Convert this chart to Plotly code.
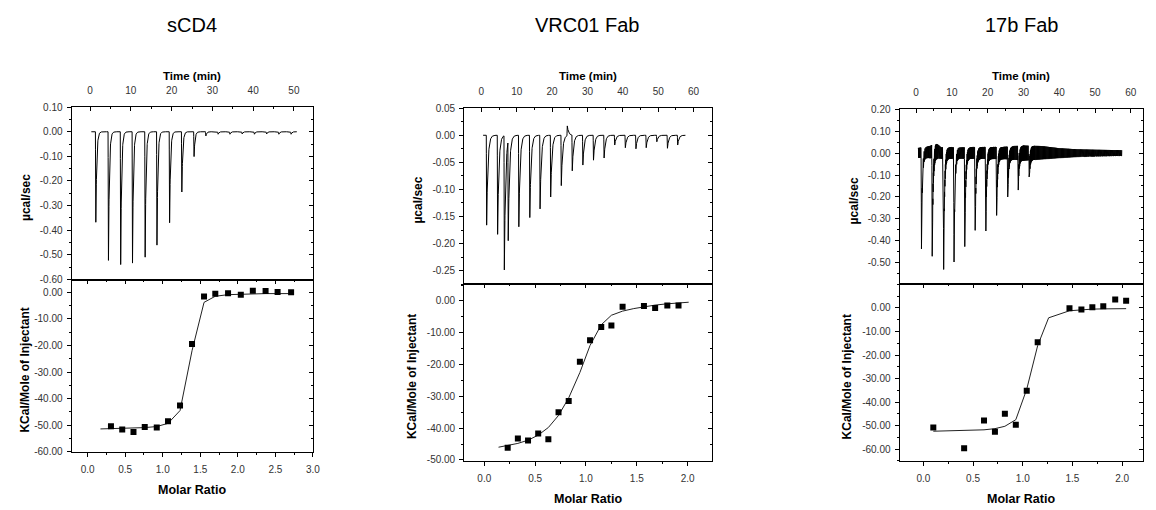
import numpy as np
import plotly.graph_objects as go

W, H = 1156, 510
FONT = "Liberation Sans, Arial, sans-serif"

titles = ["sCD4", "VRC01 Fab", "17b Fab"]

# ---------------- raw thermogram data (injection time in min, peak in µcal/sec) -------------
scd4_inj_time = [1.3, 4.4, 7.4, 10.3, 13.4, 16.3, 19.4, 22.4, 25.4, 28.3,
                 31.3, 34.2, 37.2, 40.2, 43.2, 46.2, 49.2]
scd4_inj_peak = [-0.368, -0.523, -0.540, -0.534, -0.510, -0.461, -0.370, -0.245, -0.101, -0.017,
                 -0.010, -0.010, -0.009, -0.010, -0.009, -0.010, -0.010]
scd4_time_span = [0.3, 50.7]

vrc01_inj_time = [1.4, 4.5, 6.4, 7.5, 10.5, 13.6, 16.5, 19.5, 22.5, 24.2, 25.6, 28.6, 31.6,
                  34.6, 37.6, 40.6, 43.6, 46.5, 49.5, 52.5, 55.4]
vrc01_inj_peak = [-0.166, -0.183, -0.248, -0.184, -0.169, -0.152, -0.136, -0.114, -0.093, 0.018,
                  -0.066, -0.055, -0.046, -0.042, -0.018, -0.023, -0.025, -0.023, -0.012, -0.024, -0.018]
vrc01_time_span = [0.5, 57.7]

b17_inj_time = [1.4, 4.4, 7.6, 10.5, 13.5, 16.4, 19.4, 22.4, 25.5, 28.4, 31.5]
b17_inj_peak = [-0.414, -0.470, -0.530, -0.496, -0.426, -0.352, -0.328, -0.284, -0.200, -0.160, -0.096]
b17_time_span = [0.5, 57.5]
# baseline noise envelope of the 17b trace (time, half-width, centre)
b17_noise_time = [0.5, 4.0, 5.5, 7.0, 15.0, 25.0, 30.0, 35.0, 40.0, 45.0, 50.0, 57.5]
b17_noise_amp = [0.022, 0.028, 0.036, 0.026, 0.026, 0.028, 0.034, 0.030, 0.022, 0.017, 0.015, 0.013]
b17_noise_mid = [0.000, 0.005, 0.012, 0.000, 0.000, 0.000, 0.000, 0.002, 0.000, 0.000, 0.000, 0.000]

# ---------------- integrated heats (molar ratio, kcal/mol of injectant) ----------------
scd4_molar = [0.31, 0.46, 0.61, 0.76, 0.92, 1.07, 1.23, 1.39, 1.55, 1.70, 1.87, 2.04, 2.20, 2.37, 2.53, 2.71]
scd4_heat = [-50.4, -51.6, -52.6, -50.7, -50.9, -48.5, -42.6, -19.5, -1.6, -0.6, -0.4, -0.9, 0.6, 0.5, 0.1, 0.0]
scd4_fit_molar = [0.17, 0.31, 0.46, 0.61, 0.76, 0.92, 1.07, 1.23, 1.39, 1.55, 1.70, 1.87, 2.04, 2.20, 2.37, 2.53, 2.71]
scd4_fit_heat = [-51.4, -51.3, -51.2, -51.1, -50.9, -50.5, -49.3, -44.5, -22.0, -3.8, -1.5,
                 -0.9, -0.7, -0.6, -0.5, -0.5, -0.5]

vrc01_molar = [0.23, 0.33, 0.43, 0.53, 0.63, 0.73, 0.83, 0.94, 1.04, 1.15, 1.25, 1.36, 1.57, 1.68, 1.80, 1.91]
vrc01_heat = [-46.2, -43.3, -43.9, -41.7, -43.5, -35.0, -31.5, -19.1, -12.4, -8.2, -7.7, -1.8, -1.6, -2.2, -1.4, -1.4]
vrc01_fit_molar = [0.14, 0.23, 0.33, 0.43, 0.53, 0.63, 0.73, 0.83, 0.94, 1.04, 1.15, 1.25, 1.36,
                   1.47, 1.57, 1.68, 1.80, 1.91, 2.01]
vrc01_fit_heat = [-46.0, -45.5, -44.8, -43.8, -42.2, -39.8, -36.0, -30.5, -22.5, -14.0, -7.5, -4.5, -3.2,
                  -2.4, -1.8, -1.3, -0.9, -0.6, -0.4]

b17_molar = [0.10, 0.41, 0.61, 0.72, 0.82, 0.93, 1.04, 1.15, 1.47, 1.59, 1.70, 1.81, 1.93, 2.04]
b17_heat = [-50.8, -59.6, -47.8, -52.6, -45.0, -49.6, -35.2, -14.6, -0.1, -0.7, 0.3, 0.7, 3.6, 3.1]
b17_fit_molar = [0.10, 0.41, 0.61, 0.72, 0.82, 0.93, 1.04, 1.15, 1.26, 1.47, 1.59, 1.70, 1.81, 1.93, 2.04]
b17_fit_heat = [-52.4, -52.2, -51.8, -51.3, -50.3, -47.5, -34.5, -16.0, -4.2, -1.2, -0.7, -0.5, -0.4, -0.3, -0.3]

# ---------------- tick labels ----------------
time_ticks = [[0, 10, 20, 30, 40, 50], [0, 10, 20, 30, 40, 50, 60], [0, 10, 20, 30, 40, 50, 60]]
ucal_ticks = [[0.10, 0.00, -0.10, -0.20, -0.30, -0.40, -0.50, -0.60],
              [0.05, 0.00, -0.05, -0.10, -0.15, -0.20, -0.25],
              [0.20, 0.10, 0.00, -0.10, -0.20, -0.30, -0.40, -0.50]]
kcal_ticks = [[0, -10, -20, -30, -40, -50, -60], [0, -10, -20, -30, -40, -50], [0, -10, -20, -30, -40, -50, -60]]
molar_ticks = [[0.0, 0.5, 1.0, 1.5, 2.0, 2.5, 3.0], [0.0, 0.5, 1.0, 1.5, 2.0], [0.0, 0.5, 1.0, 1.5, 2.0]]


# ---------------- helpers ----------------
def thermogram(span, inj_t, inj_p, tau, ramp=0.10, step=0.02):
    t = np.arange(span[0], span[1], step)
    t = np.sort(np.concatenate([t, np.array(inj_t), np.array(inj_t) + ramp]))
    y = np.zeros_like(t)
    for ti, pi in zip(inj_t, inj_p):
        d = t - ti
        m1 = (d >= 0) & (d <= ramp)
        y[m1] += pi * d[m1] / ramp
        m2 = d > ramp
        y[m2] += pi * np.exp(-(d[m2] - ramp) / tau)
    return t, y


def noisy_thermogram(span, inj_t, inj_p, tau, nt, namp, nmid, step=0.04, ramp=0.10):
    t = np.arange(span[0], span[1], step)
    sign = np.where(np.arange(len(t)) % 2 == 0, 1.0, -1.0)
    y = np.interp(t, nt, nmid) + sign * np.interp(t, nt, namp)
    for ti, pi in zip(inj_t, inj_p):
        d = t - ti
        m1 = (d >= 0) & (d <= ramp)
        y[m1] += pi * d[m1] / ramp
        m2 = d > ramp
        y[m2] += pi * np.exp(-(d[m2] - ramp) / tau)
    extra_t = np.array(inj_t) + ramp
    t = np.concatenate([t, extra_t])
    y = np.concatenate([y, np.array(inj_p)])
    order = np.argsort(t, kind="stable")
    return t[order], y[order]


raw = [
    thermogram(scd4_time_span, scd4_inj_time, scd4_inj_peak, 0.22),
    thermogram(vrc01_time_span, vrc01_inj_time, vrc01_inj_peak, 0.35),
    noisy_thermogram(b17_time_span, b17_inj_time, b17_inj_peak, 0.25,
                     b17_noise_time, b17_noise_amp, b17_noise_mid),
]
points = [(scd4_molar, scd4_heat), (vrc01_molar, vrc01_heat), (b17_molar, b17_heat)]
fits = [(scd4_fit_molar, scd4_fit_heat), (vrc01_fit_molar, vrc01_fit_heat), (b17_fit_molar, b17_fit_heat)]

# geometry (pixels)
panels = [dict(l=72, r=315, t=104, m=280, b=456),
          dict(l=467, r=716, t=105, m=285, b=465),
          dict(l=905, r=1150, t=106, m=285, b=465)]
time_range = [[-4.55, 54.7], [-4.85, 65.1], [-4.63, 63.4]]
ucal_range = [[-0.6008, 0.1008], [-0.2755, 0.0505], [-0.598, 0.2008]]
kcal_range = [[-60.1, 4.8], [-50.3, 5.2], [-65.0, 10.0]]
molar_range = [[-0.215, 3.003], [-0.198, 2.236], [-0.24, 2.21]]
ucal_minor = [0.05, 0.025, 0.05]


def xd(a, b):
    return [a / W, b / W]


def yd(top, bottom):
    return [1 - bottom / H, 1 - top / H]


def fmt(vals, nd):
    out = []
    for v in vals:
        v = round(v, nd)
        if v == 0:
            v = 0.0
        out.append(f"{v:.{nd}f}")
    return out


def minor_vals(rng, d):
    a = np.ceil(rng[0] / d - 1e-9) * d
    return list(np.arange(a, rng[1] + 1e-9, d))


fig = go.Figure()
layout = dict(width=W, height=H, margin=dict(l=0, r=0, t=0, b=0),
              paper_bgcolor="white", plot_bgcolor="white", showlegend=False,
              font=dict(family=FONT, color="#333333", size=10))
annotations = []

tickfont = dict(family=FONT, size=10, color="#333333")
base_ax = dict(showgrid=False, zeroline=False, linecolor="black", linewidth=1,
               tickcolor="black", tickwidth=1, tickfont=tickfont, fixedrange=True)

for p in range(3):
    g = panels[p]
    xt, xm, xmt = 3 * p + 1, 3 * p + 2, 3 * p + 3
    yu, yk, yur, ykr = 4 * p + 1, 4 * p + 2, 4 * p + 3, 4 * p + 4
    n = lambda k: "" if k == 1 else str(k)

    layout["xaxis" + n(xt)] = dict(base_ax, domain=xd(g["l"], g["r"]), range=time_range[p], side="top",
                                   anchor="y" + n(yu), showline=True, mirror=True,
                                   ticks="inside", ticklen=4, tickvals=time_ticks[p],
                                   ticktext=[str(v) for v in time_ticks[p]], ticklabelstandoff=8,
                                   minor=dict(tickvals=minor_vals(time_range[p], 5), ticks="inside",
                                              ticklen=2, tickcolor="black"))
    layout["yaxis" + n(yu)] = dict(base_ax, domain=yd(g["t"], g["m"]), range=ucal_range[p],
                                   anchor="x" + n(xt), showline=True, mirror=True,
                                   ticks="outside", ticklen=4, tickvals=ucal_ticks[p],
                                   ticktext=fmt(ucal_ticks[p], 2), ticklabelstandoff=2,
                                   minor=dict(tickvals=minor_vals(ucal_range[p], ucal_minor[p]),
                                              ticks="outside", ticklen=2, tickcolor="black"))
    layout["yaxis" + n(yur)] = dict(base_ax, overlaying="y" + n(yu), side="right", anchor="x" + n(xt),
                                    range=ucal_range[p], showline=False, ticks="inside", ticklen=4,
                                    tickvals=ucal_ticks[p], showticklabels=False,
                                    minor=dict(tickvals=minor_vals(ucal_range[p], ucal_minor[p]),
                                               ticks="inside", ticklen=2, tickcolor="black"))
    layout["xaxis" + n(xm)] = dict(base_ax, domain=xd(g["l"], g["r"]), range=molar_range[p], side="bottom",
                                   anchor="y" + n(yk), showline=True, mirror=True,
                                   ticks="outside", ticklen=4, tickvals=molar_ticks[p],
                                   ticktext=fmt(molar_ticks[p], 1), ticklabelstandoff=4,
                                   minor=dict(tickvals=minor_vals(molar_range[p], 0.25), ticks="outside",
                                              ticklen=2, tickcolor="black"))
    layout["xaxis" + n(xmt)] = dict(base_ax, overlaying="x" + n(xm), side="top", anchor="y" + n(yk),
                                    range=molar_range[p], showline=False, ticks="inside", ticklen=4,
                                    tickvals=molar_ticks[p], showticklabels=False,
                                    minor=dict(tickvals=minor_vals(molar_range[p], 0.25), ticks="inside",
                                               ticklen=2, tickcolor="black"))
    layout["yaxis" + n(yk)] = dict(base_ax, domain=yd(g["m"], g["b"]), range=kcal_range[p],
                                   anchor="x" + n(xm), showline=True, mirror=True,
                                   ticks="outside", ticklen=4, tickvals=kcal_ticks[p],
                                   ticktext=fmt(kcal_ticks[p], 2), ticklabelstandoff=2,
                                   minor=dict(tickvals=minor_vals(kcal_range[p], 5), ticks="outside",
                                              ticklen=2, tickcolor="black"))
    layout["yaxis" + n(ykr)] = dict(base_ax, overlaying="y" + n(yk), side="right", anchor="x" + n(xm),
                                    range=kcal_range[p], showline=False, ticks="inside", ticklen=4,
                                    tickvals=kcal_ticks[p], showticklabels=False,
                                    minor=dict(tickvals=minor_vals(kcal_range[p], 5), ticks="inside",
                                               ticklen=2, tickcolor="black"))

    t, y = raw[p]
    fig.add_trace(go.Scatter(x=t, y=y, mode="lines", line=dict(color="black", width=1),
                             xaxis="x" + n(xt), yaxis="y" + n(yu), hoverinfo="skip"))
    fig.add_trace(go.Scatter(x=fits[p][0], y=fits[p][1], mode="lines",
                             line=dict(color="#222222", width=1),
                             xaxis="x" + n(xm), yaxis="y" + n(yk), hoverinfo="skip"))
    fig.add_trace(go.Scatter(x=points[p][0], y=points[p][1], mode="markers",
                             marker=dict(symbol="square", size=6, color="black", line=dict(width=0)),
                             xaxis="x" + n(xm), yaxis="y" + n(yk), hoverinfo="skip"))
    fig.add_trace(go.Scatter(x=[None], y=[None], mode="markers", xaxis="x" + n(xt), yaxis="y" + n(yur),
                             hoverinfo="skip"))
    fig.add_trace(go.Scatter(x=[None], y=[None], mode="markers", xaxis="x" + n(xmt), yaxis="y" + n(ykr),
                             hoverinfo="skip"))

    cx = (g["l"] + g["r"]) / 2
    annotations.append(dict(text=titles[p], x=cx / W, y=1 - 20 / H, xref="paper", yref="paper",
                            showarrow=False, xanchor="center", yanchor="middle",
                            font=dict(family=FONT, size=20, color="black")))
    annotations.append(dict(text="<b>Time (min)</b>", x=cx / W, y=1 - 72 / H, xref="paper", yref="paper",
                            showarrow=False, xanchor="center", yanchor="middle",
                            font=dict(family=FONT, size=11.5, color="black")))
    annotations.append(dict(text="<b>Molar Ratio</b>", x=cx / W, y=1 - (g["b"] + 34) / H, xref="paper",
                            yref="paper", showarrow=False, xanchor="center", yanchor="top",
                            font=dict(family=FONT, size=12.5, color="black"), yshift=4))
    ux = g["l"] - 46
    annotations.append(dict(text="<b>µcal/sec</b>", x=ux / W, y=1 - ((g["t"] + g["m"]) / 2 + 4) / H,
                            xref="paper", yref="paper", showarrow=False, textangle=-90,
                            xanchor="center", yanchor="middle",
                            font=dict(family=FONT, size=12, color="black")))
    kx = g["l"] - (47 if p == 0 else 53)
    annotations.append(dict(text="<b>KCal/Mole of Injectant</b>", x=kx / W,
                            y=1 - ((g["m"] + g["b"]) / 2 + 4) / H,
                            xref="paper", yref="paper", showarrow=False, textangle=-90,
                            xanchor="center", yanchor="middle",
                            font=dict(family=FONT, size=12, color="black")))

layout["annotations"] = annotations
fig.update_layout(**layout)
fig.write_html("out.html")
